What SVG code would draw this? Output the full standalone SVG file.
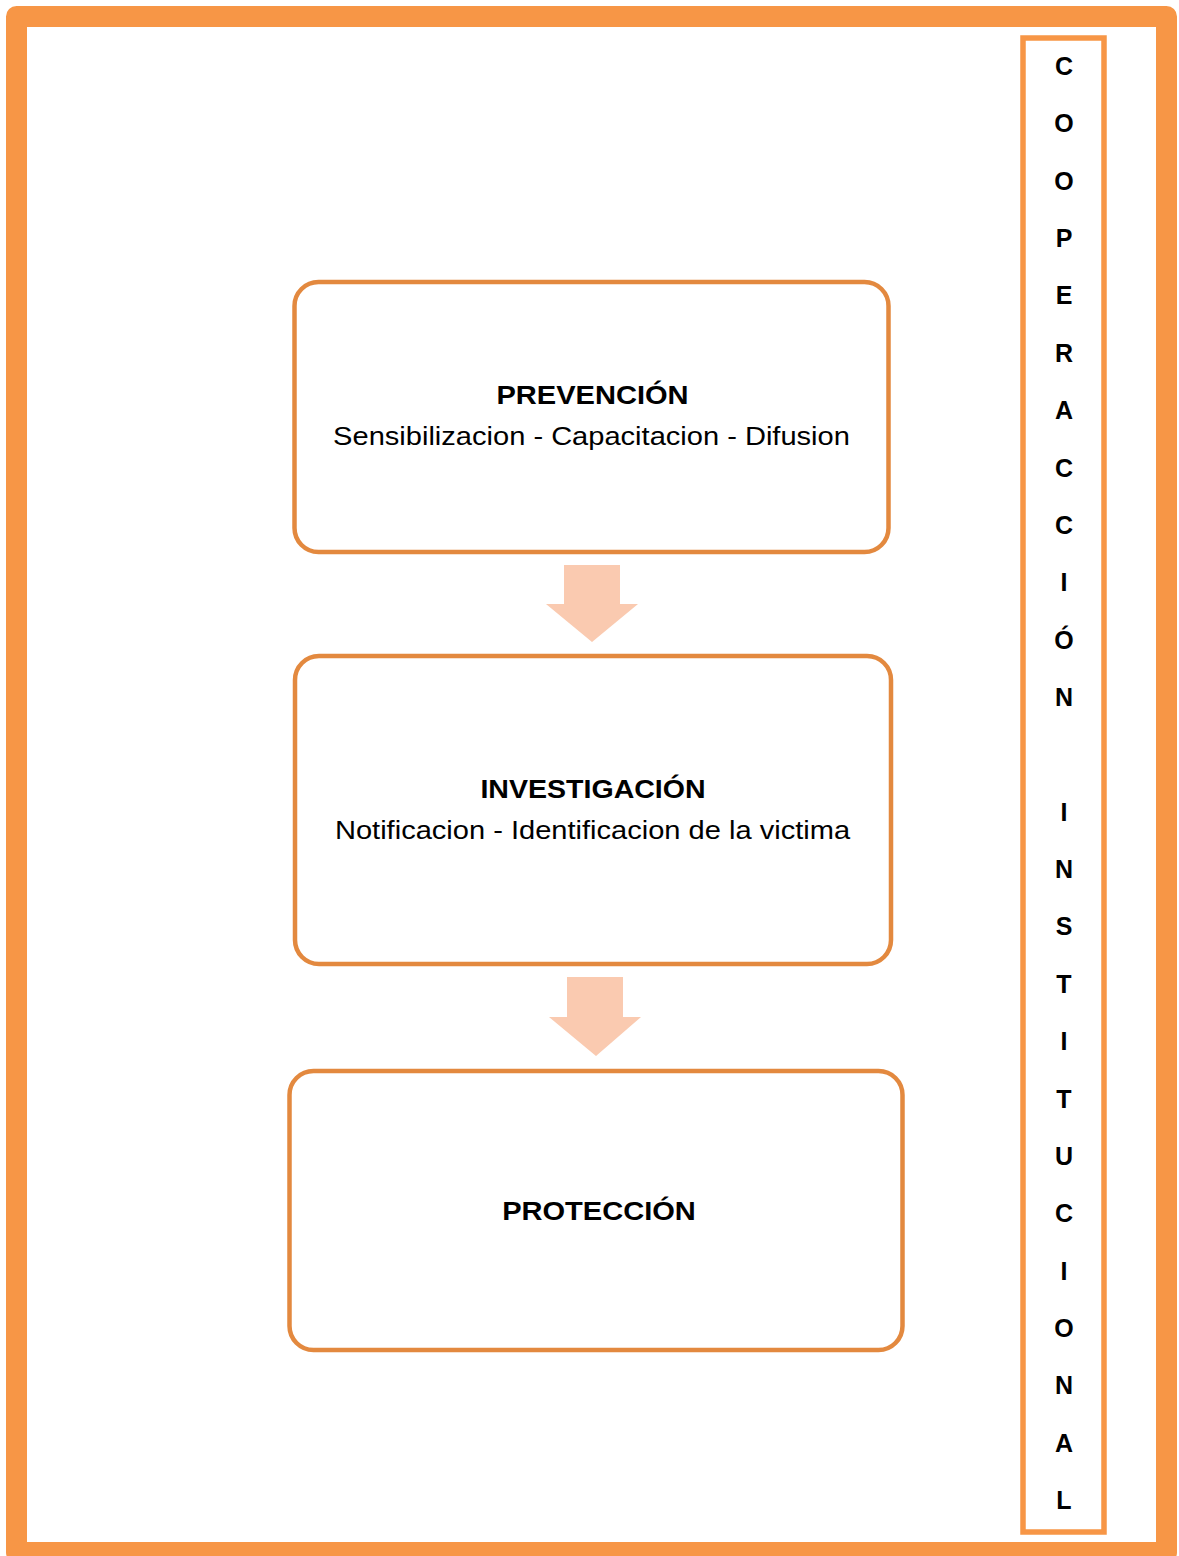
<svg xmlns="http://www.w3.org/2000/svg" width="1179" height="1556" viewBox="0 0 1179 1556">
<style>
.box{fill:#FFFFFF;stroke:#E3893F;stroke-width:4.5}
.arr{fill:#FACAB0}
.t{font-family:"Liberation Sans",Arial,sans-serif;font-size:25.5px;fill:#000;text-anchor:middle}
.b{font-weight:bold}
.v{font-family:"Liberation Sans",Arial,sans-serif;font-size:25px;font-weight:bold;fill:#000;text-anchor:middle}
</style>
<rect x="0" y="0" width="1179" height="1556" fill="#FFFFFF"/>
<rect id="frame" x="16.5" y="16.5" width="1150" height="1536" fill="none" stroke="#F79646" stroke-width="21" stroke-linejoin="round"/>
<g id="cooperacion">
<rect x="1023" y="38" width="81" height="1494" fill="none" stroke="#F79646" stroke-width="5.5"/>
<text class="v" x="1064" y="75">C</text>
<text class="v" x="1064" y="132.4">O</text>
<text class="v" x="1064" y="189.7">O</text>
<text class="v" x="1064" y="247.1">P</text>
<text class="v" x="1064" y="304.4">E</text>
<text class="v" x="1064" y="361.8">R</text>
<text class="v" x="1064" y="419.2">A</text>
<text class="v" x="1064" y="476.5">C</text>
<text class="v" x="1064" y="533.9">C</text>
<text class="v" x="1064" y="591.2">I</text>
<text class="v" x="1064" y="648.6">Ó</text>
<text class="v" x="1064" y="706">N</text>
<text class="v" x="1064" y="820.7">I</text>
<text class="v" x="1064" y="878">N</text>
<text class="v" x="1064" y="935.4">S</text>
<text class="v" x="1064" y="992.8">T</text>
<text class="v" x="1064" y="1050.1">I</text>
<text class="v" x="1064" y="1107.5">T</text>
<text class="v" x="1064" y="1164.8">U</text>
<text class="v" x="1064" y="1222.2">C</text>
<text class="v" x="1064" y="1279.6">I</text>
<text class="v" x="1064" y="1336.9">O</text>
<text class="v" x="1064" y="1394.3">N</text>
<text class="v" x="1064" y="1451.6">A</text>
<text class="v" x="1064" y="1509">L</text>
</g>
<g id="connectors">
<polygon class="arr" points="564,565 620,565 620,604 638,604 592,642 546,604 564,604"/>
<polygon class="arr" points="567,977 623,977 623,1017 641,1017 596,1056 549,1017 567,1017"/>
</g>
<g id="prevencion">
<rect class="box" x="294.5" y="282" width="594" height="270" rx="24"/>
<text class="t b" transform="translate(592.5,404) scale(1.14,1)">PREVENCIÓN</text>
<text class="t" transform="translate(591.5,445) scale(1.14,1)">Sensibilizacion - Capacitacion - Difusion</text>
</g>
<g id="investigacion">
<rect class="box" x="295" y="656" width="596" height="308" rx="24"/>
<text class="t b" transform="translate(593,798) scale(1.12,1)">INVESTIGACIÓN</text>
<text class="t" transform="translate(592.5,839) scale(1.14,1)">Notificacion - Identificacion de la victima</text>
</g>
<g id="proteccion">
<rect class="box" x="289.5" y="1071" width="613" height="279" rx="24"/>
<text class="t b" transform="translate(599,1220) scale(1.14,1)">PROTECCIÓN</text>
</g>
</svg>
